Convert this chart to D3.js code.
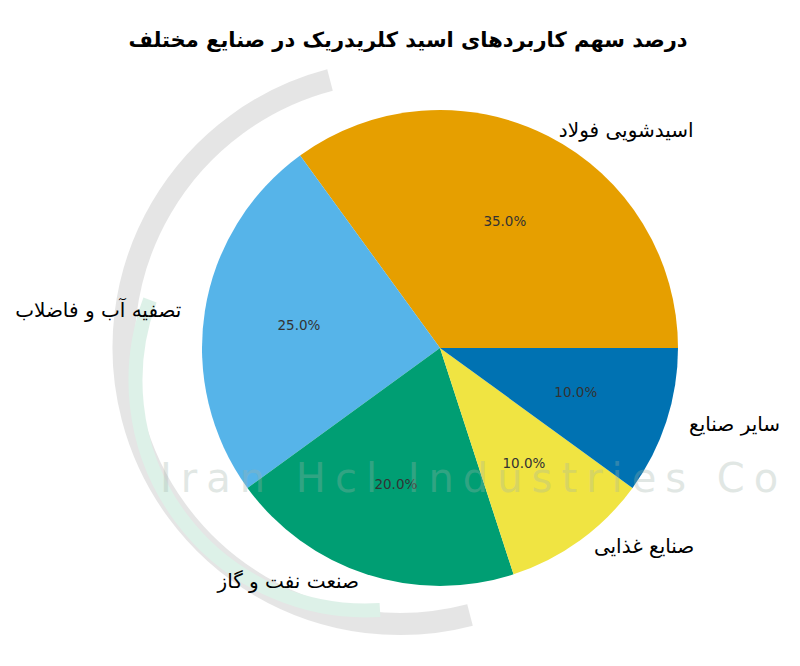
<!DOCTYPE html>
<html><head><meta charset="utf-8">
<script src="https://cdn.jsdelivr.net/npm/d3@7"></script>
<style>body{margin:0;background:#fff}text{font-family:"DejaVu Sans",sans-serif}</style>
</head><body>
<svg id="chart" width="800" height="666"></svg>
<script>
// chart data
var titleText = "درصد سهم کاربردهای اسید کلریدریک در صنایع مختلف";
var labels = ["اسیدشویی فولاد", "تصفیه آب و فاضلاب", "صنعت نفت و گاز", "صنایع غذایی", "سایر صنایع"];
var values = [35, 25, 20, 10, 10];
var colors = ["#E69F00", "#56B4E9", "#009E73", "#F0E442", "#0072B2"];

var svg = d3.select("#chart");
var cx = 440, cy = 348, r = 238;

// faint watermark behind the pie
var wm = svg.append("g").attr("opacity", 0.25);
wm.append("path").attr("d", "M 330 80 A 260 260 0 1 0 470 615")
	.attr("fill", "none").attr("stroke", "#999").attr("stroke-width", 22);
wm.append("path").attr("d", "M 150 300 A 230 230 0 0 0 380 610")
	.attr("fill", "none").attr("stroke", "#7cc9a6").attr("stroke-width", 14);

var pie = d3.pie().sort(null).value(function(d){ return d; })
	.startAngle(0).endAngle(2 * Math.PI);
var arcs = pie(values);
var arc = d3.arc().innerRadius(0).outerRadius(r);

var g = svg.append("g").attr("transform", "translate(" + cx + "," + cy + ")");

arcs.forEach(function(a, i){
	var t1 = a.startAngle, t2 = a.endAngle; // ccw from +x, like matplotlib
	g.append("path")
		.attr("d", arc({startAngle: Math.PI / 2 - t2, endAngle: Math.PI / 2 - t1}))
		.attr("fill", colors[i]);
});

svg.append("text").attr("x", 160).attr("y", 492)
	.attr("font-size", 40).attr("letter-spacing", 9).attr("fill", "#9fb3a8").attr("opacity", 0.3)
	.text("Iran  Hcl  Industries Co");

arcs.forEach(function(a, i){
	var mid = (a.startAngle + a.endAngle) / 2;
	var lx = 1.1 * r * Math.cos(mid), ly = -1.03 * r * Math.sin(mid);
	g.append("text").attr("x", lx).attr("y", ly).attr("dy", "0.35em")
		.attr("text-anchor", lx > 0 ? "start" : "end")
		.attr("font-size", 20).attr("fill", "#000")
		.text(labels[i]);
	var px = 0.6 * r * Math.cos(mid), py = -0.6 * r * Math.sin(mid);
	g.append("text").attr("x", px).attr("y", py).attr("dy", "0.35em")
		.attr("text-anchor", "middle").attr("font-size", 13.5).attr("fill", "#333")
		.text(values[i].toFixed(1) + "%");
});

svg.append("text").attr("x", 408).attr("y", 47).attr("text-anchor", "middle")
	.attr("font-size", 21).attr("font-weight", "bold").text(titleText);
</script>
</body></html>
